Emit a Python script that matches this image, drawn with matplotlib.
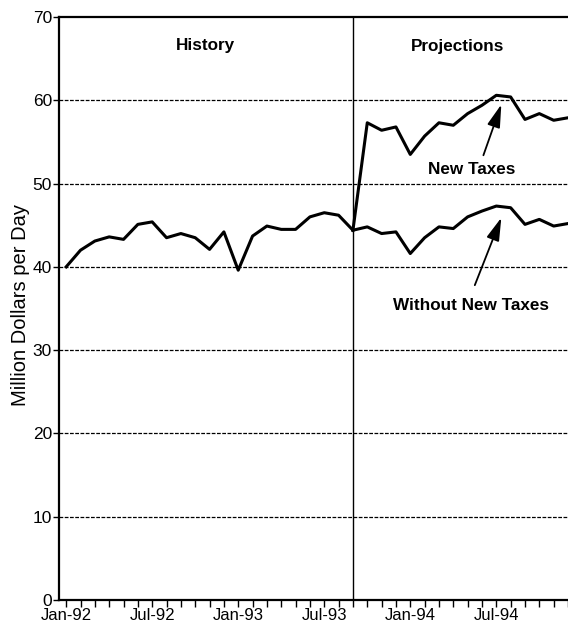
import matplotlib
matplotlib.use("Agg")
import matplotlib.pyplot as plt

# monthly data, Jan-92 .. Dec-94 (index 0..35)
months = list(range(36))
history = [40.0, 42.0, 43.1, 43.6, 43.3, 45.1, 45.4, 43.5, 44.0, 43.5, 42.1,
           44.2, 39.6, 43.7, 44.9, 44.5, 44.5, 46.0, 46.5, 46.2, 44.4]
new_taxes = [44.4, 57.3, 56.4, 56.8, 53.5, 55.7, 57.3, 57.0, 58.4, 59.4, 60.6,
             60.4, 57.7, 58.4, 57.6, 57.9]
without_taxes = [44.4, 44.8, 44.0, 44.2, 41.6, 43.5, 44.8, 44.6, 46.0, 46.7, 47.3,
                 47.1, 45.1, 45.7, 44.9, 45.2]
tick_labels = ["Jan-92", "Jul-92", "Jan-93", "Jul-93", "Jan-94", "Jul-94"]
yticks = [0, 10, 20, 30, 40, 50, 60, 70]

split = len(history) - 1  # Sep-93
proj_months = months[split:split + len(new_taxes)]

font = "Liberation Sans"

fig = plt.figure(figsize=(5.68, 6.30), dpi=100)
ax = fig.add_axes([59 / 568, 30 / 630, 1 - 59 / 568, 583 / 630])

for y in yticks[1:-1]:
    ax.axhline(y, color="black", lw=0.9, ls=(0, (3, 1.2)), zorder=1)
ax.axvline(split, color="black", lw=1.0, zorder=1)

ax.plot(months[:len(history)], history, color="black", lw=2.2, zorder=3)
ax.plot(proj_months, new_taxes, color="black", lw=2.2, zorder=3)
ax.plot(proj_months, without_taxes, color="black", lw=2.2, zorder=3)

ax.set_xlim(-0.5, 34.9)
ax.set_ylim(0, 70)

ax.set_xticks(months[::6])
ax.set_xticklabels(tick_labels, family=font, fontsize=12)
ax.set_xticks(months, minor=True)
ax.tick_params(axis="x", which="both", direction="out", length=5, width=1.0, pad=1)
ax.set_yticks(yticks)
ax.set_yticklabels([str(v) for v in yticks], family=font, fontsize=12.5)
ax.tick_params(axis="y", direction="out", length=4, width=1.0, pad=1)

for s in ["left", "bottom", "top"]:
    ax.spines[s].set_linewidth(1.6)
ax.spines["right"].set_visible(False)

ax.set_ylabel("Million Dollars per Day", family=font, fontsize=14.5)
ax.yaxis.set_label_coords(-0.057, 0.506)

bold = dict(family=font, fontweight="bold", fontsize=12.3, ha="center", va="center")
ax.text(9.7, 66.6, "History", **bold)
ax.text(27.3, 66.5, "Projections", **bold)
ax.text(28.26, 51.7, "New Taxes", **bold)
ax.text(28.26, 35.4, "Without New Taxes", **bold)

arrow = dict(arrowstyle="-|>,head_length=1.4,head_width=0.4", color="black",
             lw=1.3, mutation_scale=10, shrinkA=0, shrinkB=0)
ax.annotate("", xy=(30.35, 59.5), xytext=(29.1, 53.4), arrowprops=arrow)
ax.annotate("", xy=(30.35, 45.9), xytext=(28.5, 37.8), arrowprops=arrow)

fig.savefig("out.png", dpi=100)
